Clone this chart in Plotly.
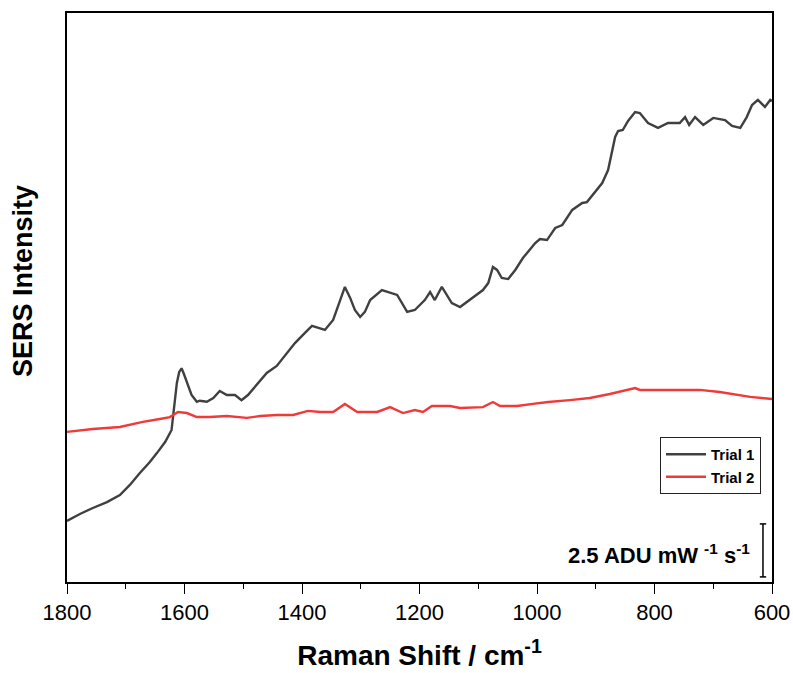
import plotly.graph_objects as go

# Trial 1 (Raman shift in cm^-1, intensity in ADU mW^-1 s^-1)
trial1_x = [1800, 1778, 1756, 1732, 1710, 1693, 1676, 1659, 1647, 1633, 1622, 1618, 1613, 1609,
            1605, 1601, 1596, 1588, 1579, 1574, 1562, 1551, 1540, 1528, 1514, 1503, 1492, 1475,
            1460, 1443, 1426, 1412, 1395, 1383, 1361, 1347, 1335, 1327, 1318, 1310, 1301, 1293,
            1284, 1264, 1238, 1230, 1221, 1208, 1191, 1182, 1174, 1162, 1153, 1145, 1131, 1109,
            1092, 1083, 1075, 1068, 1060, 1049, 1037, 1024, 1003, 995, 983, 969, 957, 940, 923,
            915, 889, 879, 867, 862, 854, 845, 833, 825, 811, 794, 777, 757, 748, 741, 731, 717,
            700, 680, 668, 654, 643, 634, 624, 612, 603, 600]
trial1_y = [2.88, 3.21, 3.49, 3.77, 4.10, 4.58, 5.14, 5.66, 6.08, 6.60, 7.17, 8.11, 9.39, 9.91,
            10.08, 9.81, 9.39, 8.82, 8.50, 8.55, 8.50, 8.68, 9.01, 8.82, 8.82, 8.58, 8.82, 9.39,
            9.86, 10.19, 10.80, 11.27, 11.75, 12.08, 11.89, 12.36, 13.30, 13.92, 13.40, 12.83,
            12.50, 12.74, 13.30, 13.77, 13.54, 13.16, 12.74, 12.83, 13.30, 13.68, 13.30, 13.92,
            13.49, 13.16, 12.97, 13.44, 13.77, 14.10, 14.86, 14.72, 14.34, 14.29, 14.72, 15.28,
            15.99, 16.18, 16.13, 16.70, 16.84, 17.55, 17.88, 17.92, 18.82, 19.43, 20.99, 21.27,
            21.32, 21.75, 22.17, 22.12, 21.65, 21.42, 21.65, 21.65, 21.93, 21.56, 21.93, 21.56,
            21.89, 21.79, 21.51, 21.42, 21.93, 22.50, 22.74, 22.41, 22.74, 22.69]

# Trial 2
trial2_x = [1800, 1756, 1710, 1671, 1642, 1625, 1611, 1596, 1579, 1557, 1528, 1494, 1471, 1443,
            1415, 1390, 1369, 1347, 1327, 1306, 1272, 1250, 1228, 1208, 1194, 1179, 1148, 1131,
            1092, 1075, 1063, 1034, 1007, 981, 944, 910, 876, 833, 825, 791, 723, 689, 654, 637,
            600]
trial2_y = [7.08, 7.22, 7.31, 7.55, 7.69, 7.78, 8.02, 7.97, 7.78, 7.78, 7.83, 7.74, 7.83, 7.88,
            7.88, 8.07, 8.02, 8.02, 8.40, 8.02, 8.02, 8.25, 7.97, 8.11, 8.02, 8.30, 8.30, 8.21,
            8.25, 8.49, 8.30, 8.30, 8.40, 8.49, 8.58, 8.68, 8.87, 9.15, 9.06, 9.06, 9.06, 8.96,
            8.82, 8.73, 8.63]

assert len(trial1_x) == len(trial1_y), (len(trial1_x), len(trial1_y))
assert len(trial2_x) == len(trial2_y), (len(trial2_x), len(trial2_y))

scale_bar_value = 2.5
scale_bar_base = 0.24
scale_bar_label = "2.5 ADU mW <sup>-1</sup> s<sup>-1</sup>"

FONT = "Liberation Sans, Arial, sans-serif"

fig = go.Figure()
fig.add_trace(go.Scatter(x=trial1_x, y=trial1_y, mode="lines", name="<b>Trial 1</b>",
                         legendgroup="a", line=dict(color="#404040", width=2.4)))
fig.add_trace(go.Scatter(x=trial2_x, y=trial2_y, mode="lines", name="<b>Trial 2</b>",
                         legendgroup="b", line=dict(color="#f03a3a", width=2.4)))

# scale bar
bx = 0.9872
fig.add_shape(type="line", xref="paper", yref="y", x0=bx, x1=bx,
              y0=scale_bar_base, y1=scale_bar_base + scale_bar_value,
              line=dict(color="black", width=1.5))
for yy in (scale_bar_base, scale_bar_base + scale_bar_value):
    fig.add_shape(type="line", xref="paper", yref="y", x0=bx - 0.0045, x1=bx + 0.0045,
                  y0=yy, y1=yy, line=dict(color="black", width=1.5))
fig.add_annotation(xref="paper", yref="y", x=0.9716, y=0.57,
                   xanchor="right", yanchor="bottom", showarrow=False,
                   text="<b>" + scale_bar_label + "</b>",
                   font=dict(family=FONT, size=22, color="black"))

# y-axis title
fig.add_annotation(xref="paper", yref="paper", x=-0.0624, y=0.529, textangle=-90,
                   xanchor="center", yanchor="middle", showarrow=False,
                   text="<b>SERS Intensity</b>",
                   font=dict(family=FONT, size=27, color="black"))

fig.update_layout(
    width=793, height=673,
    margin=dict(l=67, r=21, t=13, b=91),
    paper_bgcolor="white", plot_bgcolor="white",
    showlegend=True,
    legend=dict(x=0.9844, y=0.2548, xanchor="right", yanchor="top",
                bordercolor="#222", borderwidth=1, bgcolor="white",
                font=dict(family=FONT, size=15, color="black"),
                tracegroupgap=0, itemwidth=40),
    font=dict(family=FONT, color="black"),
)
fig.update_xaxes(range=[1800, 600], dtick=200, tick0=600, automargin=False,
                 showline=True, linecolor="black", linewidth=1.5, mirror=True,
                 ticks="outside", ticklen=10, tickwidth=1.3, tickcolor="black",
                 minor=dict(dtick=100, ticks="outside", ticklen=5, tickwidth=1.3, tickcolor="black"),
                 showgrid=False, zeroline=False,
                 tickfont=dict(family=FONT, size=22, color="black"),
                 title=dict(text="<b>Raman Shift / cm<sup>-1</sup></b>",
                            font=dict(family=FONT, size=28, color="black"), standoff=21))
fig.update_yaxes(range=[0, 26.84], automargin=False,
                 showline=True, linecolor="black", linewidth=1.5, mirror=True,
                 ticks="", showticklabels=False, showgrid=False, zeroline=False)

fig.write_html("out.html")
